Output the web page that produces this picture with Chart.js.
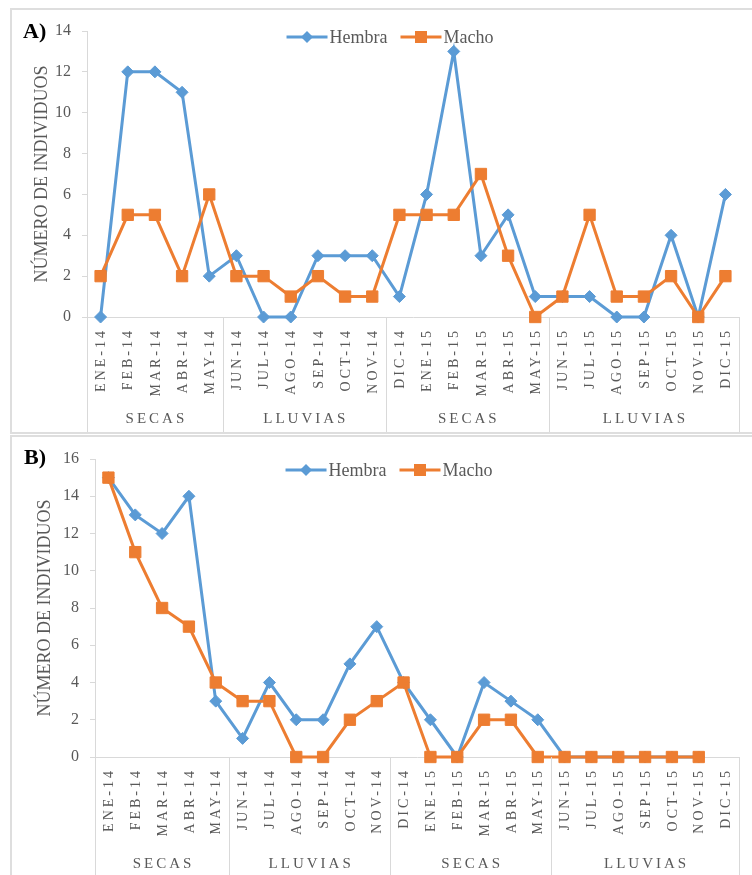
<!DOCTYPE html>
<html>
<head>
<meta charset="utf-8">
<script src="https://cdn.jsdelivr.net/npm/chart.js@4.4.1/dist/chart.umd.min.js"></script>
<style>
  body { margin: 0; background: #fff; overflow: hidden; width: 752px; height: 875px; position: relative; }
  .panel { position: absolute; left: 10px; width: 760px; border: 2px solid #dedede; box-sizing: border-box; background: #fff; }
  .lienzo { position: absolute; left: 0; top: 0; width: 740px; }
</style>
</head>
<body>
<div class="panel" style="top:8px;height:426px"><div class="lienzo" style="height:422px"><canvas id="graficaA"></canvas></div></div>
<div class="panel" style="top:435px;height:460px"><div class="lienzo" style="height:446px"><canvas id="graficaB"></canvas></div></div>
<script>
// meses y temporadas del eje x
var meses = ["ENE-14", "FEB-14", "MAR-14", "ABR-14", "MAY-14", "JUN-14", "JUL-14", "AGO-14", "SEP-14", "OCT-14", "NOV-14",
  "DIC-14", "ENE-15", "FEB-15", "MAR-15", "ABR-15", "MAY-15", "JUN-15", "JUL-15", "AGO-15", "SEP-15", "OCT-15", "NOV-15", "DIC-15"];
var temporadas = ["SECAS", "LLUVIAS", "SECAS", "LLUVIAS"];
var temporadaFin = [4, 10, 16, 23]; // ultimo mes de cada temporada

// A)
var hembraA = [0, 12, 12, 11, 2, 3, 0, 0, 3, 3, 3, 1, 6, 13, 3, 5, 1, 1, 1, 0, 0, 4, 0, 6];
var machoA = [2, 5, 5, 2, 6, 2, 2, 1, 2, 1, 1, 5, 5, 5, 7, 3, 0, 1, 5, 1, 1, 2, 0, 2];
// B)
var hembraB = [15, 13, 12, 14, 3, 1, 4, 2, 2, 5, 7, 4, 2, 0, 4, 3, 2, 0, 0, 0, 0, 0, 0, null];
var machoB = [15, 11, 8, 7, 4, 3, 3, 0, 0, 2, 3, 4, 0, 0, 2, 2, 0, 0, 0, 0, 0, 0, 0, null];

var azul = "#5b9bd5";
var naranja = "#ed7d31";
var gris = "#595959";
var fuente = "'Liberation Serif', 'Times New Roman', serif";

function marcador(ctx, tipo, x, y, color) {
  ctx.fillStyle = color;
  ctx.beginPath();
  if (tipo == 'rombo') {
    ctx.moveTo(x, y - 6); ctx.lineTo(x + 6, y); ctx.lineTo(x, y + 6); ctx.lineTo(x - 6, y);
  } else {
    ctx.rect(x - 6, y - 6, 12, 12);
  }
  ctx.closePath();
  ctx.fill();
}

var etiquetasPlugin = {
  id: 'etiquetas',
  afterDraw: function (chart, args, opts) {
    var ctx = chart.ctx;
    var x = chart.scales.x;
    var eje = x.top;
    var abajo = x.bottom;
    ctx.save();

    // lineas del cuadro de etiquetas
    var bordes = [x.left];
    for (var k = 0; k < temporadaFin.length; k++) {
      if (k == temporadaFin.length - 1) bordes.push(x.right);
      else bordes.push(x.getPixelForValue(temporadaFin[k] + 0.5));
    }
    ctx.strokeStyle = "#d9d9d9";
    ctx.lineWidth = 1;
    for (var b = 0; b < bordes.length; b++) {
      ctx.beginPath();
      ctx.moveTo(Math.round(bordes[b]) + 0.5, eje);
      ctx.lineTo(Math.round(bordes[b]) + 0.5, abajo);
      ctx.stroke();
    }

    // meses (girados)
    ctx.fillStyle = gris;
    ctx.font = "14px " + fuente;
    ctx.letterSpacing = "3px";
    ctx.textAlign = "right";
    ctx.textBaseline = "middle";
    for (var i = 0; i < meses.length; i++) {
      ctx.save();
      ctx.translate(x.getPixelForValue(i) + 1, eje + opts.mesY);
      ctx.rotate(-Math.PI / 2);
      ctx.fillText(meses[i], 0, 0);
      ctx.restore();
    }

    // temporadas
    ctx.font = "15px " + fuente;
    ctx.textAlign = "center";
    for (var t = 0; t < temporadas.length; t++) {
      ctx.fillText(temporadas[t], (bordes[t] + bordes[t + 1]) / 2 + 1.5, eje + opts.temporadaY);
    }
    ctx.letterSpacing = "0px";

    // leyenda
    ctx.font = "18px " + fuente;
    ctx.textAlign = "left";
    var items = [
      { texto: "Hembra", color: azul, tipo: 'rombo' },
      { texto: "Macho", color: naranja, tipo: 'cuadro' }
    ];
    var largo = 41, total = 0;
    items.forEach(function (it) { it.ancho = largo + 2 + ctx.measureText(it.texto).width; total += it.ancho; });
    total += 13;
    var lx = opts.leyendaX - total / 2;
    var ly = opts.leyendaY;
    items.forEach(function (it) {
      ctx.strokeStyle = it.color;
      ctx.lineWidth = 3;
      ctx.beginPath();
      ctx.moveTo(lx, ly);
      ctx.lineTo(lx + largo, ly);
      ctx.stroke();
      marcador(ctx, it.tipo, lx + largo / 2, ly, it.color);
      ctx.fillStyle = gris;
      ctx.fillText(it.texto, lx + largo + 2, ly + 1);
      lx += it.ancho + 13;
    });

    // letra del panel
    ctx.fillStyle = "#000";
    ctx.font = "bold 22px " + fuente;
    ctx.fillText(opts.letra, opts.letraX, opts.letraY);
    ctx.restore();
  }
};

function crearGrafica(id, hembra, macho, maxY, cfg) {
  var ctx = document.getElementById(id).getContext("2d");
  return new Chart(ctx, {
    type: 'line',
    data: {
      labels: meses,
      datasets: [
        {
          label: "Hembra",
          data: hembra,
          borderColor: azul,
          backgroundColor: azul,
          borderWidth: 3,
          pointStyle: 'rectRot',
          pointRadius: 6,
          pointBorderWidth: 1,
          tension: 0,
          clip: false,
          order: 1
        },
        {
          label: "Macho",
          data: macho,
          borderColor: naranja,
          backgroundColor: naranja,
          borderWidth: 3,
          pointStyle: 'rect',
          pointRadius: 8,
          pointBorderWidth: 1,
          tension: 0,
          clip: false,
          order: 0
        }
      ]
    },
    options: {
      responsive: true,
      maintainAspectRatio: false,
      animation: false,
      layout: { padding: { left: 0, top: cfg.arriba, right: 13, bottom: 0 } },
      plugins: {
        legend: { display: false },
        tooltip: { enabled: false },
        etiquetas: cfg.etiquetas
      },
      scales: {
        x: {
          type: 'category',
          offset: true,
          ticks: { display: false },
          grid: { display: false },
          border: { display: true, color: "#d9d9d9" },
          afterFit: function (s) { s.height = cfg.altoX; }
        },
        y: {
          min: 0,
          max: maxY,
          ticks: { stepSize: 2, color: gris, padding: 11, font: { family: fuente, size: 16 } },
          grid: { display: true, drawOnChartArea: false, drawTicks: true, tickLength: 5, color: "#d9d9d9" },
          border: { display: true, color: "#d9d9d9" },
          title: {
            display: true,
            text: "NÚMERO DE INDIVIDUOS",
            color: gris,
            font: { family: fuente, size: 18 },
            padding: { top: cfg.tituloPad, bottom: 0 }
          },
          afterFit: function (s) { s.width = cfg.anchoY; }
        }
      }
    },
    plugins: [etiquetasPlugin]
  });
}

crearGrafica("graficaA", hembraA, machoA, 14, {
  arriba: 21, altoX: 115, anchoY: 75, tituloPad: 19,
  etiquetas: { letra: "A)", letraX: 11, letraY: 22, leyendaX: 378, leyendaY: 27, mesY: 11, temporadaY: 102 }
});

crearGrafica("graficaB", hembraB, machoB, 16, {
  arriba: 22, altoX: 126, anchoY: 83, tituloPad: 22,
  etiquetas: { letra: "B)", letraX: 12, letraY: 21, leyendaX: 377, leyendaY: 33, mesY: 11, temporadaY: 107 }
});
</script>
</body>
</html>
